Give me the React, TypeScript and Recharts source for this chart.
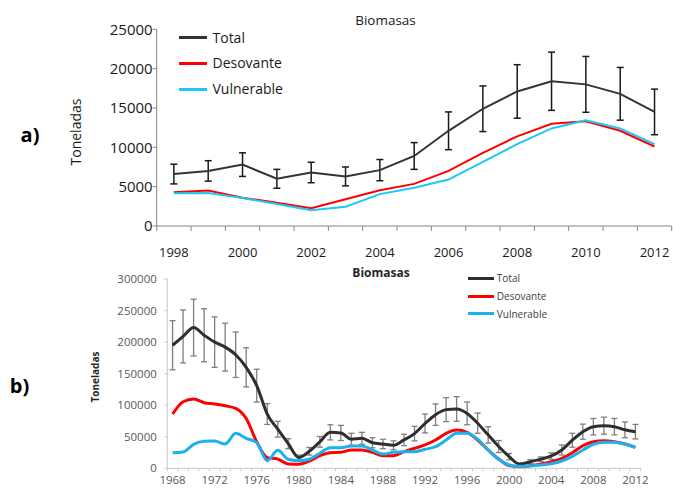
import React from 'react';
import { LineChart, Line, XAxis, YAxis, ErrorBar, Legend } from 'recharts';

const FONT = '"Open Sans", "DejaVu Sans", sans-serif';

// ---- Panel a) 1998-2012 ----
const yearsA = [1998, 1999, 2000, 2001, 2002, 2003, 2004, 2005, 2006, 2007, 2008, 2009, 2010, 2011, 2012];
const totalA = [6600, 7000, 7800, 6000, 6800, 6300, 7100, 8900, 12100, 14900, 17100, 18400, 18000, 16800, 14500];
const totalErrA = [1250, 1300, 1500, 1200, 1300, 1200, 1350, 1700, 2400, 2900, 3400, 3700, 3550, 3350, 2900];
const desovanteA = [4300, 4500, 3600, 2950, 2250, 3400, 4550, 5350, 7000, 9300, 11400, 13000, 13300, 12100, 10100];
const vulnerableA = [4150, 4200, 3550, 2800, 2000, 2450, 4050, 4850, 5900, 8150, 10400, 12400, 13450, 12400, 10400];
const yearLabelsA = [1998, 2000, 2002, 2004, 2006, 2008, 2010, 2012];
const yTicksA = [0, 5000, 10000, 15000, 20000, 25000];

// ---- Panel b) 1968-2012 ----
const yearsB = [
  1968, 1969, 1970, 1971, 1972, 1973, 1974, 1975, 1976, 1977, 1978, 1979, 1980, 1981, 1982,
  1983, 1984, 1985, 1986, 1987, 1988, 1989, 1990, 1991, 1992, 1993, 1994, 1995, 1996, 1997,
  1998, 1999, 2000, 2001, 2002, 2003, 2004, 2005, 2006, 2007, 2008, 2009, 2010, 2011, 2012,
];
const totalB = [
  195000, 209000, 223000, 211000, 200000, 192000, 180000, 160000, 131000, 86000, 62000, 39000, 17000, 27000, 42000,
  57000, 56000, 46000, 47500, 40500, 38500, 36500, 45000, 55000, 71000, 85000, 93000, 94000, 87000, 71500,
  53000, 34500, 18500, 6500, 10500, 14500, 19500, 29000, 44500, 58000, 66000, 67500, 66000, 61000, 58000,
];
const totalErrB = [
  39000, 42000, 45000, 42000, 40000, 38000, 36000, 31000, 26000, 16500, 12500, 8000, 4000, 6000, 8500,
  12000, 12000, 9500, 9500, 8000, 7500, 7000, 9000, 11500, 15000, 17000, 19000, 19500, 18000, 16000,
  13000, 9500, 5000, 2000, 3000, 3500, 5000, 8000, 11000, 12000, 13000, 13500, 13000, 12500, 11500,
];
const desovanteB = [
  86000, 105500, 110000, 104000, 102000, 99000, 95000, 79000, 42000, 17000, 14500, 7000, 6500, 11500, 20000,
  24700, 25300, 29000, 29000, 25300, 20000, 20000, 26300, 31700, 37000, 44800, 55400, 60700, 57000, 44800,
  29000, 14700, 4200, 2000, 4200, 6800, 10500, 15800, 24700, 35800, 42100, 43800, 42100, 38500, 33200,
];
const vulnerableB = [
  24700, 25800, 38000, 42800, 43200, 38500, 55400, 47500, 40600, 12000, 28500, 14300, 12000, 14300, 23800,
  32700, 32700, 35300, 35300, 29000, 22600, 25300, 26300, 26300, 30100, 34200, 44800, 55400, 55400, 46000,
  29000, 14200, 5200, 3200, 3700, 5200, 7300, 11600, 19000, 29000, 38000, 41200, 41200, 38500, 33200,
];
const yearLabelsB = [1968, 1972, 1976, 1980, 1984, 1988, 1992, 1996, 2000, 2004, 2008, 2012];
const yTicksB = [0, 50000, 100000, 150000, 200000, 250000, 300000];

const seriesNames = ['Total', 'Desovante', 'Vulnerable'];

const dataA = yearsA.map((year, i) => ({
  year,
  total: totalA[i],
  totalErr: totalErrA[i],
  desovante: desovanteA[i],
  vulnerable: vulnerableA[i],
}));

const dataB = yearsB.map((year, i) => ({
  year,
  total: totalB[i],
  totalErr: totalErrB[i],
  desovante: desovanteB[i],
  vulnerable: vulnerableB[i],
}));

// tick marks sit between categories, like a category axis
const boundaries = (years: number[]) => [...years.map((y) => y - 0.5), years[years.length - 1] + 0.5];
const boundaryTicksA = boundaries(yearsA);
const boundaryTicksB = boundaries(yearsB);
const domainA: [number, number] = [boundaryTicksA[0], boundaryTicksA[boundaryTicksA.length - 1]];
const domainB: [number, number] = [boundaryTicksB[0], boundaryTicksB[boundaryTicksB.length - 1]];

type LegendItem = { value: string; color: string };

function makeLegend(fontSize: number, rowHeight: number, lineLen: number, lineWidth: number, gap: number, color: string) {
  return (props: any) => {
    const items: LegendItem[] = [...(props.payload || [])].sort(
      (a: LegendItem, b: LegendItem) => seriesNames.indexOf(a.value) - seriesNames.indexOf(b.value),
    );
    return (
      <div style={{ fontFamily: FONT, fontSize, color, lineHeight: 1 }}>
        {items.map((p) => (
          <div key={p.value} style={{ display: 'flex', alignItems: 'center', height: rowHeight, whiteSpace: 'nowrap' }}>
            <span style={{ display: 'inline-block', width: lineLen, height: lineWidth, background: p.color, marginRight: gap }} />
            <span>{p.value}</span>
          </div>
        ))}
      </div>
    );
  };
}

const legendA = makeLegend(14, 25.8, 28, 2.5, 5.5, '#1a1a1a');
const legendB = makeLegend(10, 17.7, 26, 3, 2.5, '#404040');

const abs = (cx: number, cy: number, extra: React.CSSProperties = {}, rotate = 0): React.CSSProperties => ({
  position: 'absolute',
  left: cx,
  top: cy,
  transform: `translate(-50%, -50%) rotate(${rotate}deg)`,
  fontFamily: FONT,
  lineHeight: 1,
  whiteSpace: 'nowrap',
  ...extra,
});

export default function App() {
  return (
    <div style={{ position: 'absolute', left: 0, top: 0, width: 673, height: 488, background: '#fff', overflow: 'hidden' }}>
      {/* Panel a */}
      <div style={{ position: 'absolute', left: 0, top: 0 }}>
        <LineChart width={673} height={260} data={dataA} margin={{ top: 29.3, right: 1.3, bottom: 0, left: 0 }}>
          <XAxis
            xAxisId="marks"
            dataKey="year"
            type="number"
            domain={domainA}
            ticks={boundaryTicksA}
            interval={0}
            tickFormatter={() => ''}
            tickSize={5}
            height={5}
            axisLine={{ stroke: '#868686' }}
            tickLine={{ stroke: '#868686' }}
            allowDataOverflow
          />
          <XAxis
            xAxisId="years"
            dataKey="year"
            type="number"
            domain={domainA}
            ticks={yearLabelsA}
            interval={0}
            axisLine={false}
            tickLine={false}
            tickSize={0}
            tickMargin={17}
            height={29}
            tick={{ fill: '#1a1a1a', fontSize: 13, fontFamily: FONT }}
            allowDataOverflow
          />
          <YAxis
            domain={[0, 25000]}
            ticks={yTicksA}
            interval={0}
            width={156.7}
            tickSize={4}
            tickMargin={0}
            axisLine={{ stroke: '#868686' }}
            tickLine={{ stroke: '#868686' }}
            tick={{ fill: '#1a1a1a', fontSize: 15, fontFamily: FONT }}
          />
          <Line xAxisId="marks" type="linear" dataKey="total" name="Total" stroke="#333333" strokeWidth={2} dot={false} isAnimationActive={false}>
            <ErrorBar dataKey="totalErr" direction="y" width={3.5} strokeWidth={1.5} stroke="#1a1a1a" />
          </Line>
          <Line xAxisId="marks" type="linear" dataKey="desovante" name="Desovante" stroke="#ff0000" strokeWidth={2} dot={false} isAnimationActive={false} />
          <Line xAxisId="marks" type="linear" dataKey="vulnerable" name="Vulnerable" stroke="#1cc8f5" strokeWidth={2} dot={false} isAnimationActive={false} />
          <Legend
            layout="vertical"
            align="center"
            verticalAlign="middle"
            content={legendA}
            wrapperStyle={{ left: 179, top: 24.8, width: 'auto' }}
          />
        </LineChart>
      </div>

      {/* Panel b */}
      <div style={{ position: 'absolute', left: 0, top: 250 }}>
        <LineChart width={673} height={238} data={dataB} margin={{ top: 29, right: 32.3, bottom: 0, left: 0 }}>
          <XAxis
            xAxisId="marks"
            dataKey="year"
            type="number"
            domain={domainB}
            ticks={boundaryTicksB}
            interval={0}
            tickFormatter={() => ''}
            tickSize={3}
            height={3}
            axisLine={{ stroke: '#c8c8c8' }}
            tickLine={{ stroke: '#c8c8c8' }}
            allowDataOverflow
          />
          <XAxis
            xAxisId="years"
            dataKey="year"
            type="number"
            domain={domainB}
            ticks={yearLabelsB}
            interval={0}
            axisLine={false}
            tickLine={false}
            tickSize={0}
            tickMargin={5}
            height={16.7}
            tick={{ fill: '#595959', fontSize: 11.5, fontFamily: FONT }}
            allowDataOverflow
          />
          <YAxis
            domain={[0, 300000]}
            ticks={yTicksB}
            interval={0}
            width={167.3}
            tickSize={3}
            tickMargin={7.5}
            axisLine={{ stroke: '#c8c8c8' }}
            tickLine={{ stroke: '#c8c8c8' }}
            tick={{ fill: '#595959', fontSize: 11.5, fontFamily: FONT }}
          />
          <Line xAxisId="marks" type="monotone" dataKey="total" name="Total" stroke="#2e2e2e" strokeWidth={3} dot={false} isAnimationActive={false}>
            <ErrorBar dataKey="totalErr" direction="y" width={3} strokeWidth={1.3} stroke="#7f7f7f" />
          </Line>
          <Line xAxisId="marks" type="monotone" dataKey="desovante" name="Desovante" stroke="#ff0000" strokeWidth={3} dot={false} isAnimationActive={false} />
          <Line xAxisId="marks" type="monotone" dataKey="vulnerable" name="Vulnerable" stroke="#1ab2ee" strokeWidth={3} dot={false} isAnimationActive={false} />
          <Legend
            layout="vertical"
            align="center"
            verticalAlign="middle"
            content={legendB}
            wrapperStyle={{ left: 468.3, top: 19.5, width: 'auto' }}
          />
        </LineChart>
      </div>

      {/* titles and side labels */}
      <div style={abs(385.5, 21, { fontSize: 13.5, color: '#1a1a1a' })}>Biomasas</div>
      <div style={abs(76, 131.7, { fontSize: 14, color: '#1a1a1a' }, -90)}>Toneladas</div>
      <div style={abs(30, 135, { fontSize: 20, fontWeight: 700, color: '#000' })}>a)</div>

      <div style={abs(381, 272.5, { fontSize: 12, fontWeight: 700, color: '#262626' })}>Biomasas</div>
      <div style={abs(95, 376.7, { fontSize: 10, fontWeight: 700, color: '#262626' }, -90)}>Toneladas</div>
      <div style={abs(19.5, 385.5, { fontSize: 20, fontWeight: 700, color: '#000' })}>b)</div>
    </div>
  );
}
